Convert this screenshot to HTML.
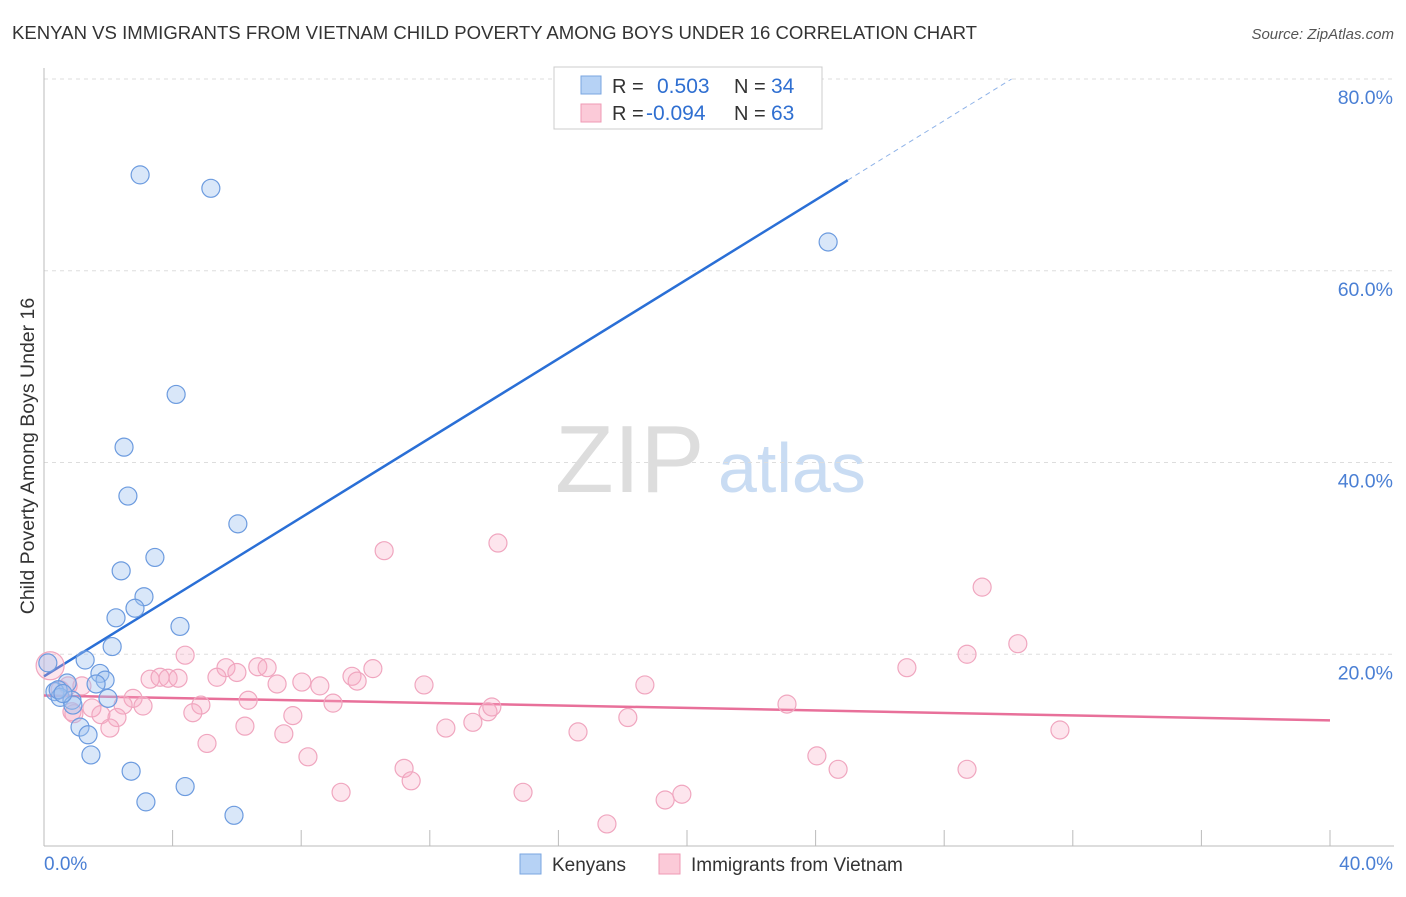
<!DOCTYPE html>
<html><head><meta charset="utf-8"><style>
body{margin:0;background:#fff;font-family:"Liberation Sans",sans-serif}
svg text{font-family:"Liberation Sans",sans-serif}
</style></head><body>
<svg id="c" width="1406" height="892">
<text x="12" y="39" font-size="18" fill="#333" textLength="965" lengthAdjust="spacingAndGlyphs">KENYAN VS IMMIGRANTS FROM VIETNAM CHILD POVERTY AMONG BOYS UNDER 16 CORRELATION CHART</text>
<text x="1394" y="39" font-size="15" fill="#555" text-anchor="end" font-style="italic">Source: ZipAtlas.com</text>
<text x="555" y="492" font-size="96" fill="#ddd" font-family="Liberation Serif">ZIP</text>
<text x="718" y="492" font-size="70" fill="#c9dcf3">atlas</text>
<text x="34" y="456" font-size="19.5" fill="#333" text-anchor="middle" transform="rotate(-90 34 456)">Child Poverty Among Boys Under 16</text>
<g id="grid"></g><g id="axes"></g><g id="lines"></g><g id="pts"></g>
<g>
<rect x="554" y="67" width="268" height="62" fill="#fff" stroke="#ccc"/>
<rect x="581" y="76" width="20" height="18" fill="#b6d2f5" stroke="#7aa6e0"/>
<rect x="581" y="104" width="20" height="18" fill="#fbcad8" stroke="#ef9ab4"/>
<text x="612" y="93" font-size="20" fill="#333">R = </text><text x="657" y="93" font-size="21" fill="#2f6fd1">0.503</text>
<text x="734" y="93" font-size="20" fill="#333">N = </text><text x="771" y="93" font-size="21" fill="#2f6fd1">34</text>
<text x="612" y="120" font-size="20" fill="#333">R = </text><text x="646" y="120" font-size="21" fill="#2f6fd1">-0.094</text>
<text x="734" y="120" font-size="20" fill="#333">N = </text><text x="771" y="120" font-size="21" fill="#2f6fd1">63</text>
</g>
<g>
<rect x="520" y="854" width="21" height="20" fill="#b6d2f5" stroke="#7aa6e0"/>
<text x="552" y="871" font-size="19" fill="#333">Kenyans</text>
<rect x="659" y="854" width="21" height="20" fill="#fbcad8" stroke="#ef9ab4"/>
<text x="691" y="871" font-size="19" fill="#333">Immigrants from Vietnam</text>
</g>
</svg>
<script>
const blueX=[2.99,5.19,24.39,4.11,2.49,2.61,6.03,3.45,2.40,3.11,2.83,2.24,4.23,2.12,1.28,1.74,1.90,1.62,0.72,0.34,0.50,0.87,1.99,0.90,1.12,1.37,1.46,2.71,3.17,4.39,5.91,0.12,0.44,0.59];
const blueY=[70.0,68.6,63.0,47.1,41.6,36.5,33.6,30.1,28.7,26.0,24.8,23.8,22.9,20.8,19.4,18.0,17.3,16.9,17.0,16.1,15.5,15.2,15.4,14.7,12.4,11.6,9.5,7.8,4.6,6.2,3.2,19.1,16.3,15.9];
const pinkX=[0.19,10.58,14.12,29.18,30.29,28.71,26.84,4.39,5.66,6.00,6.65,6.94,9.58,10.23,3.30,3.61,3.86,4.17,5.38,7.25,8.02,8.58,9.74,11.82,18.69,0.50,0.75,1.18,2.77,6.35,8.99,4.88,2.46,3.08,1.49,0.87,0.93,1.77,2.27,4.63,7.74,13.81,13.93,13.34,18.16,23.11,2.05,6.25,5.07,7.46,12.50,16.61,31.60,8.21,11.20,11.42,24.04,24.70,28.71,9.24,14.90,19.32,19.84,17.51];
const pinkY=[18.8,30.8,31.6,27.0,21.1,20.0,18.6,19.9,18.6,18.1,18.7,18.6,17.7,18.5,17.4,17.6,17.5,17.5,17.6,16.9,17.1,16.7,17.2,16.8,16.8,16.3,16.7,16.7,15.4,15.2,14.9,14.7,14.7,14.6,14.4,14.0,13.8,13.7,13.4,13.9,13.6,14.0,14.5,12.9,13.4,14.8,12.3,12.5,10.7,11.7,12.3,11.9,12.1,9.3,8.1,6.8,9.4,8.0,8.0,5.6,5.6,4.8,5.4,2.3];
const yTicks=[20,40,60,80];
const yTickLabels=["20.0%","40.0%","60.0%","80.0%"];
const blueFit=[17.7,2.07]; // intercept, slope
const pinkFit=[15.7,-0.065];
const sx=v=>44+v/40*1286, sy=v=>846-v*9.5875;
const NS="http://www.w3.org/2000/svg";
function mk(p,t,a){const e=document.createElementNS(NS,t);for(const k in a)e.setAttribute(k,a[k]);document.getElementById(p).appendChild(e);return e;}
yTicks.forEach((t,i)=>{
 const l=mk('grid','line',{x1:44,x2:1394,y1:sy(t),y2:sy(t),stroke:'#ddd','stroke-dasharray':'4,4'});
 
 
 const tx=mk('axes','text',{x:1393,y:sy(t)+25,'font-size':19.5,fill:'#4a7fd4','text-anchor':'end'});
 tx.textContent=yTickLabels[i];
 
 
});
let ax=mk('axes','line',{x1:44,x2:44,y1:68,y2:846,stroke:'#bbb'});


ax=mk('axes','line',{x1:44,x2:1394,y1:846,y2:846,stroke:'#bbb'});


for(let i=1;i<=10;i++){const t=mk('axes','line',{x1:sx(i*4),x2:sx(i*4),y1:830,y2:846,stroke:'#bbb'});
 
 }
let xl=mk('axes','text',{x:44,y:870,'font-size':19,fill:'#4a7fd4'});xl.textContent='0.0%';


xl=mk('axes','text',{x:1393,y:870,'font-size':19,fill:'#4a7fd4','text-anchor':'end'});xl.textContent='40.0%';


const bf=x=>blueFit[0]+blueFit[1]*x, pf=x=>pinkFit[0]+pinkFit[1]*x;
let ln=mk('lines','line',{x1:sx(0),y1:sy(bf(0)),x2:sx(25),y2:sy(bf(25)),stroke:'#2a6fd6','stroke-width':2.5});


const xe=(80-blueFit[0])/blueFit[1];
ln=mk('lines','line',{x1:sx(25),y1:sy(bf(25)),x2:sx(xe),y2:sy(80),stroke:'#8fb3e8','stroke-width':1,'stroke-dasharray':'5,4'});


ln=mk('lines','line',{x1:sx(0),y1:sy(pf(0)),x2:sx(40),y2:sy(pf(40)),stroke:'#e8709a','stroke-width':2.5});


pinkX.forEach((x,i)=>{const c=mk('pts','circle',{cx:sx(x),cy:sy(pinkY[i]),r:i==0?14:9,fill:'rgba(248,170,195,0.3)',stroke:'#f0a6bf','stroke-width':1.2});
 
 });
blueX.forEach((x,i)=>{const c=mk('pts','circle',{cx:sx(x),cy:sy(blueY[i]),r:9,fill:'rgba(160,195,240,0.4)',stroke:'#6c9bdf','stroke-width':1.2});
 
 });
</script>
</body></html>
